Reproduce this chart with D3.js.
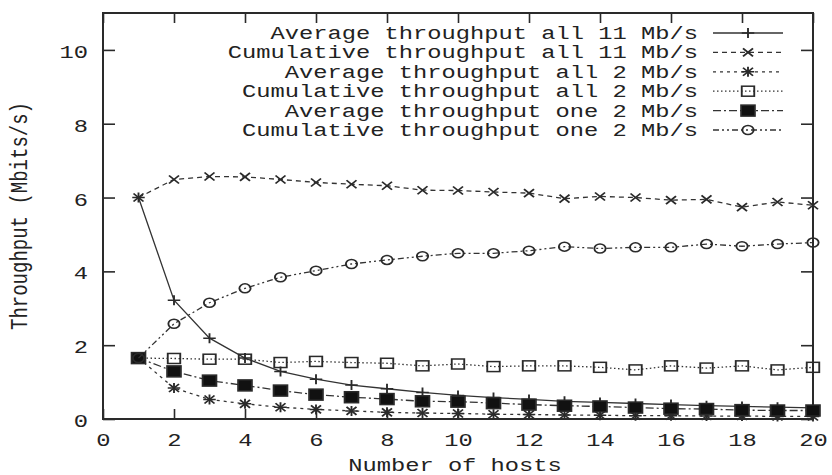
<!DOCTYPE html>
<html>
<head>
<meta charset="utf-8">
<script src="https://cdn.jsdelivr.net/npm/d3@7"></script>
<style>
  html, body { margin: 0; padding: 0; background: #fff; }
  svg { display: block; }
  text { font-family: "Courier New", "Liberation Mono", monospace; font-size: 19px; fill: #222; }
</style>
</head>
<body>
<svg id="chart" width="832" height="475"></svg>
<script>
// Number of hosts (x values)
const hosts = [1, 2, 3, 4, 5, 6, 7, 8, 9, 10, 11, 12, 13, 14, 15, 16, 17, 18, 19, 20]

// Series values (Mbits/s)
const avgAll11 = [6.0, 3.22, 2.19, 1.65, 1.29, 1.08, 0.92, 0.82, 0.72, 0.64, 0.58, 0.53, 0.48, 0.45, 0.42, 0.39, 0.36, 0.34, 0.32, 0.30]
const cumAll11 = [6.0, 6.49, 6.57, 6.56, 6.49, 6.41, 6.36, 6.32, 6.2, 6.19, 6.15, 6.12, 5.97, 6.03, 6.0, 5.93, 5.95, 5.74, 5.88, 5.79]
const avgAll2 = [1.65, 0.84, 0.53, 0.41, 0.32, 0.26, 0.22, 0.18, 0.16, 0.15, 0.13, 0.12, 0.11, 0.1, 0.09, 0.09, 0.08, 0.08, 0.07, 0.07]
const cumAll2 = [1.65, 1.64, 1.62, 1.62, 1.53, 1.56, 1.53, 1.51, 1.44, 1.49, 1.42, 1.44, 1.44, 1.40, 1.33, 1.44, 1.38, 1.44, 1.33, 1.40]
const avgOne2 = [1.65, 1.29, 1.04, 0.91, 0.77, 0.66, 0.59, 0.54, 0.48, 0.47, 0.43, 0.39, 0.36, 0.34, 0.31, 0.28, 0.27, 0.24, 0.23, 0.23]
const cumOne2 = [1.65, 2.58, 3.15, 3.54, 3.84, 4.02, 4.2, 4.31, 4.41, 4.49, 4.49, 4.56, 4.67, 4.62, 4.65, 4.65, 4.74, 4.68, 4.74, 4.78]

const seriesNames = [
  "Average throughput all 11 Mb/s",
  "Cumulative throughput all 11 Mb/s",
  "Average throughput all 2 Mb/s",
  "Cumulative throughput all 2 Mb/s",
  "Average throughput one 2 Mb/s",
  "Cumulative throughput one 2 Mb/s"
]
const seriesValues = [avgAll11, cumAll11, avgAll2, cumAll2, avgOne2, cumOne2]

const xTicks = [0, 2, 4, 6, 8, 10, 12, 14, 16, 18, 20]
const yTicks = [0, 2, 4, 6, 8, 10]

// Styling per series (dash pattern + marker kind)
const STYLES = [
  { dash: null, marker: "plus" },
  { dash: "5,4", marker: "cross" },
  { dash: "3,4", marker: "star" },
  { dash: "1.5,2.5", marker: "openSquare" },
  { dash: "8,3,2,3", marker: "fillSquare" },
  { dash: "6,3,2,3,2,3", marker: "openCircle" }
]

const SX = 1.25 // the picture is stretched horizontally
const INK = "#2a2a2a"

const M = { left: 103, right: 813, top: 13, bottom: 419 }

const svg = d3.select("#chart")

const x = d3.scaleLinear().domain([0, 20]).range([M.left, M.right])
const y = d3.scaleLinear().domain([0, 11]).range([M.bottom, M.top])

// Axes with inward ticks
function styleAxis(g) {
  g.select(".domain").remove()
  g.selectAll(".tick line").attr("stroke", INK).attr("stroke-width", 1.6)
  g.selectAll(".tick text").attr("fill", "#222").attr("font-size", null).attr("font-family", null)
}

svg.append("g")
  .attr("transform", `translate(0,${M.bottom})`)
  .call(d3.axisBottom(x).tickValues(xTicks).tickSizeInner(-10).tickSizeOuter(0).tickPadding(14))
  .call(styleAxis)
  .selectAll(".tick text").attr("transform", `scale(${SX},1)`)

svg.append("g")
  .attr("transform", `translate(0,${M.top})`)
  .call(d3.axisTop(x).tickValues(xTicks).tickSizeInner(-10).tickSizeOuter(0).tickFormat(""))
  .call(styleAxis)

svg.append("g")
  .attr("transform", `translate(${M.left},0)`)
  .call(d3.axisLeft(y).tickValues(yTicks).tickSizeInner(-12).tickSizeOuter(0).tickPadding(12))
  .call(styleAxis)
  .selectAll(".tick text").attr("transform", `scale(${SX},1)`).attr("dy", "0.4em")

svg.append("g")
  .attr("transform", `translate(${M.right},0)`)
  .call(d3.axisRight(y).tickValues(yTicks).tickSizeInner(-12).tickSizeOuter(0).tickFormat(""))
  .call(styleAxis)

// Frame
svg.append("rect")
  .attr("x", M.left).attr("y", M.top)
  .attr("width", M.right - M.left).attr("height", M.bottom - M.top)
  .attr("fill", "none").attr("stroke", INK).attr("stroke-width", 2)

// Axis titles
svg.append("text")
  .attr("text-anchor", "middle")
  .attr("transform", `translate(455,471) scale(${SX},1)`)
  .text("Number of hosts")

svg.append("text")
  .attr("text-anchor", "middle")
  .attr("transform", `translate(27,216) scale(${SX},1) rotate(-90)`)
  .text("Throughput (Mbits/s)")

// Markers
function drawMarker(g, kind) {
  const s = 5
  if (kind === "plus" || kind === "star") {
    g.append("path").attr("d", `M${-s},0H${s}M0,${-s}V${s}`)
  }
  if (kind === "cross" || kind === "star") {
    g.append("path").attr("d", `M${-s * 0.8},${-s * 0.8}L${s * 0.8},${s * 0.8}M${-s * 0.8},${s * 0.8}L${s * 0.8},${-s * 0.8}`)
  }
  if (kind === "openSquare") {
    g.append("rect").attr("x", -5).attr("y", -5).attr("width", 10).attr("height", 10).attr("fill", "none")
  }
  if (kind === "fillSquare") {
    g.append("rect").attr("x", -5.5).attr("y", -5.5).attr("width", 11).attr("height", 11).attr("fill", "#111")
  }
  if (kind === "openCircle") {
    g.append("circle").attr("r", 4.5).attr("fill", "none")
  }
}

const line = d3.line().x((d) => x(d[0])).y((d) => y(d[1]))

const plot = svg.append("g")

seriesValues.forEach((vals, i) => {
  const st = STYLES[i]
  const pts = hosts.map((h, j) => [h, vals[j]])
  plot.append("path")
    .datum(pts)
    .attr("d", line)
    .attr("fill", "none")
    .attr("stroke", "#333")
    .attr("stroke-width", 1.3)
    .attr("stroke-dasharray", st.dash)

  pts.forEach((p) => {
    const g = plot.append("g")
      .attr("transform", `translate(${x(p[0])},${y(p[1])}) scale(${SX},1)`)
      .attr("stroke", INK).attr("stroke-width", 1.5)
    drawMarker(g, st.marker)
  })
})

// Legend (top right, text right-aligned before the sample)
const legend = svg.append("g")
const LEG_TEXT_X = 698
const LEG_Y0 = 33
const LEG_DY = 19.4

seriesNames.forEach((name, i) => {
  const cy = LEG_Y0 + i * LEG_DY
  legend.append("text")
    .attr("text-anchor", "end")
    .attr("transform", `translate(${LEG_TEXT_X},${cy + 6}) scale(${SX},1)`)
    .text(name)
  legend.append("line")
    .attr("x1", 713).attr("x2", 783).attr("y1", cy).attr("y2", cy)
    .attr("stroke", "#333").attr("stroke-width", 1.3)
    .attr("stroke-dasharray", STYLES[i].dash)
  const g = legend.append("g")
    .attr("transform", `translate(748,${cy}) scale(${SX},1)`)
    .attr("stroke", INK).attr("stroke-width", 1.5)
  drawMarker(g, STYLES[i].marker)
})
</script>
</body>
</html>
